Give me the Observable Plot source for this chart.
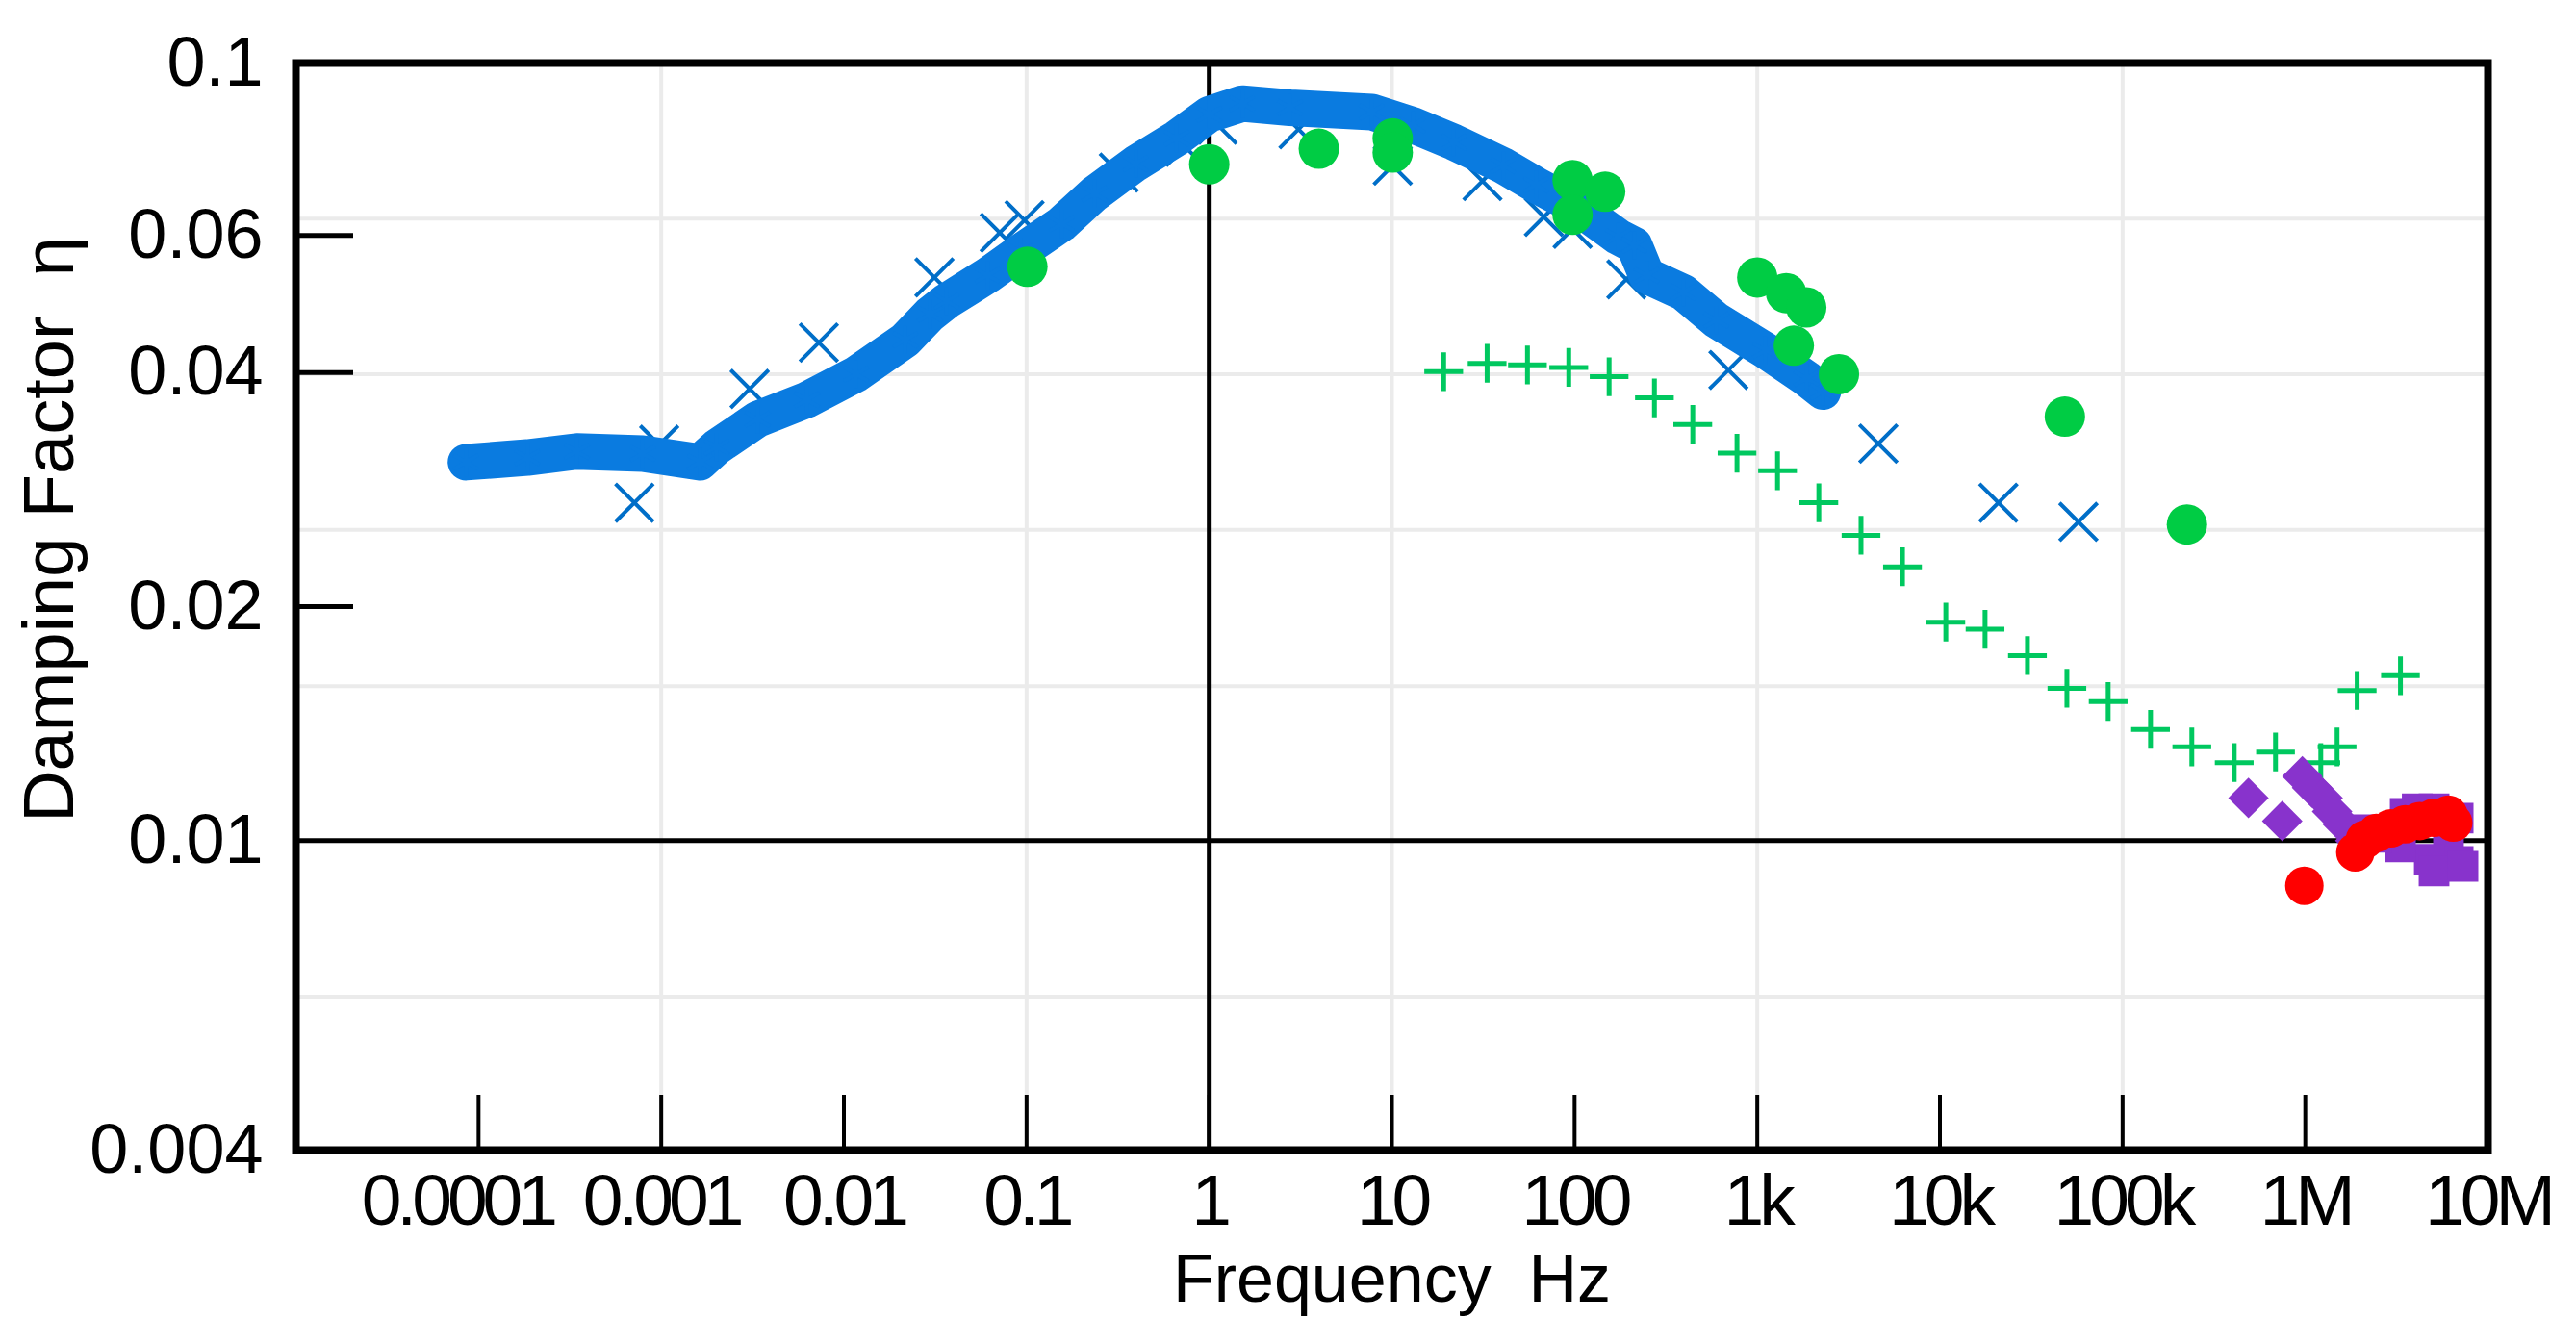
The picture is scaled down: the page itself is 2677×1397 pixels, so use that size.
<!DOCTYPE html>
<html>
<head>
<meta charset="utf-8">
<script src="https://cdn.jsdelivr.net/npm/d3@7"></script>
<script src="https://cdn.jsdelivr.net/npm/@observablehq/plot@0.6"></script>
<style>
  html, body { margin: 0; padding: 0; background: #fff; }
  svg { display: block; }
  g[aria-label="x-axis tick label"] text { letter-spacing: -5px; }
</style>
</head>
<body>
<div id="chart"></div>
<script>
// ---- axis ticks ----
const xTickValues = [1e-4, 1e-3, 1e-2, 1e-1, 1, 10, 100, 1e3, 1e4, 1e5, 1e6, 1e7];
const xTickLabels = ["0.0001", "0.001", "0.01", "0.1", "1", "10", "100", "1k", "10k", "100k", "1M", "10M"];
const xTickMarks = [1e-4, 1e-3, 1e-2, 1e-1, 1, 10, 100, 1e3, 1e4, 1e5, 1e6];
const yTickValues = [0.1, 0.06, 0.04, 0.02, 0.01, 0.004];
const yTickLabels = ["0.1", "0.06", "0.04", "0.02", "0.01", "0.004"];
const yTickMarks = [0.06, 0.04, 0.02];
const xGrid = [1e-3, 1e-1, 10, 1e3, 1e5];
const yGrid = [0.0631, 0.0398, 0.0251, 0.0158, 0.0063];
const xRefLine = [1];
const yRefLine = [0.01];

// ---- series: blue dense band ----
const bandF = [8.53e-5, 1.85e-4, 3.45e-4, 7.91e-4, 1.63e-3, 2.01e-3, 3.37e-3, 6.27e-3, 0.01167, 0.02173,
  0.02965, 0.03648, 0.06124, 0.09268, 0.1556, 0.2355, 0.3948, 0.6625, 1.0, 1.517, 2.77,
  7.74, 13.0, 21.85, 40.6, 61.4, 103, 172.6, 212, 248, 394, 596, 1108, 1858, 2286];
const bandEta = [0.03067, 0.0311, 0.03166, 0.03146, 0.03067, 0.03207, 0.03483, 0.03688, 0.0398, 0.04406,
  0.04755, 0.04941, 0.05333, 0.05718, 0.06212, 0.06791, 0.07425, 0.08005, 0.08592, 0.08868, 0.0876,
  0.0865, 0.0832, 0.0791, 0.0738, 0.0697, 0.0653, 0.0598, 0.0583, 0.0533, 0.0507, 0.0467, 0.0427, 0.0393, 0.0378];

// ---- series: blue crosses ----
const crossF = [7.13e-4, 9.75e-4, 3.05e-3, 7.29e-3, 0.0313, 0.0713, 0.0975, 0.320, 0.738, 1.11,
  3.08, 10.1, 31.3, 67.9, 97.5, 192, 695, 4600, 20900, 57300];
const crossEta = [0.0272, 0.0323, 0.0381, 0.0437, 0.0530, 0.0605, 0.0628, 0.0723, 0.078, 0.0833,
  0.0822, 0.0738, 0.0705, 0.0634, 0.0612, 0.0527, 0.0403, 0.0324, 0.0272, 0.0257];

// ---- series: green dots ----
const gDotF = [0.101, 1.0, 3.98, 10.1, 10.1, 97.5, 97.5, 147, 1000, 1439, 1854, 1585, 2800, 48300, 225000];
const gDotEta = [0.0547, 0.0741, 0.0776, 0.080, 0.0767, 0.0707, 0.0638, 0.0683, 0.0530, 0.0506, 0.0485, 0.0433, 0.0398, 0.0351, 0.0255];

// ---- series: green plus ----
const gPlusF = [19.2, 33.2, 55.2, 92.9, 154.5, 273.5, 443.6, 774.5, 1291, 2173, 3698, 6237, 10770, 17660, 30130,
  49550, 83370, 142200, 239300, 408300, 687100, 1.216e6, 1.493e6, 1.923e6, 3.319e6];
const gPlusEta = [0.0401, 0.0411, 0.0409, 0.0406, 0.0395, 0.0371, 0.0343, 0.0315, 0.0299, 0.0272, 0.0247, 0.0225, 0.0191, 0.0187, 0.0173,
  0.0157, 0.0151, 0.0139, 0.0132, 0.0126, 0.0130, 0.0126, 0.0132, 0.0156, 0.0163];

// ---- series: purple diamonds ----
const pDiaF = [488700, 748200, 963900, 1.089e6, 1.245e6, 1.403e6, 1.603e6, 1.879e6];
const pDiaEta = [0.01135, 0.0106, 0.0121, 0.0117, 0.01135, 0.0109, 0.0105, 0.0100];

// ---- series: purple squares ----
const pSqF = [3.524e6, 5.07e6, 6.87e6, 6.08e6, 6.87e6, 4.775e6, 3.319e6, 2.449e6, 2.173e6, 5.07e6, 7.3e6, 4.1e6];
const pSqEta = [0.01084, 0.01099, 0.01069, 0.00982, 0.0094, 0.00946, 0.00982, 0.0101, 0.01033, 0.00914, 0.00927, 0.01099];

// ---- series: red dots ----
const redF = [988500, 1.879e6, 2.118e6, 2.449e6, 2.938e6, 3.524e6, 4.227e6, 5.07e6, 6.08e6, 6.457e6];
const redEta = [0.00875, 0.00966, 0.01003, 0.01023, 0.01037, 0.0105, 0.0106, 0.0107, 0.0108, 0.01055];

const xTitle = "Frequency  Hz";
const yTitle = "Damping Factor  η";

const zip = (fs, es) => fs.map((f, i) => ({f, eta: es[i]}));
const band = zip(bandF, bandEta);
const crosses = zip(crossF, crossEta);
const gDots = zip(gDotF, gDotEta);
const gPlus = zip(gPlusF, gPlusEta);
const pDia = zip(pDiaF, pDiaEta);
const pSq = zip(pSqF, pSqEta);
const red = zip(redF, redEta);

const xLab = new Map(xTickValues.map((v, i) => [v, xTickLabels[i]]));
const yLab = new Map(yTickValues.map((v, i) => [v, yTickLabels[i]]));

const W = 2677, H = 1397;
const mL = 307, mR = 92, mT = 65, mB = 202;
const innerW = W - mL - mR, innerH = H - mT - mB;

const xAxisOpts = {tickFormat: d => xLab.get(d), tickSize: 0, tickPadding: 24, fontSize: 75, label: null};

const chart = Plot.plot({
  width: W,
  height: H,
  marginLeft: mL,
  marginRight: mR,
  marginTop: mT,
  marginBottom: mB,
  style: {fontFamily: "'Liberation Sans', Arial, sans-serif", background: "#fff", color: "#000"},
  x: {type: "log", domain: [1e-5, 1e7]},
  y: {type: "log", domain: [0.004, 0.1]},
  marks: [
    Plot.ruleX(xGrid, {stroke: "#ebebeb", strokeWidth: 4}),
    Plot.ruleY(yGrid, {stroke: "#ebebeb", strokeWidth: 4}),
    Plot.ruleX(xRefLine, {stroke: "#000", strokeWidth: 5}),
    Plot.ruleY(yRefLine, {stroke: "#000", strokeWidth: 5}),
    Plot.tickX(xTickMarks, {x: d => d, stroke: "#000", strokeWidth: 4, insetTop: innerH - 57}),
    Plot.tickY(yTickMarks, {y: d => d, stroke: "#000", strokeWidth: 5, insetRight: innerW - 60}),
    Plot.axisX({...xAxisOpts, ticks: xTickValues.slice(0, 1), dx: -22}),
    Plot.axisX({...xAxisOpts, ticks: xTickValues.slice(1)}),
    Plot.axisY({ticks: yTickValues, tickFormat: d => yLab.get(d), tickSize: 0, tickPadding: 34, fontSize: 72, label: null}),
    Plot.text([xTitle], {frameAnchor: "bottom", text: d => d, dy: 135, fontSize: 70, lineAnchor: "middle", textAnchor: "middle", fill: "#000"}),
    Plot.text([yTitle], {frameAnchor: "left", text: d => d, rotate: -90, dx: -255, dy: -80, fontSize: 74, lineAnchor: "middle", textAnchor: "middle", fill: "#000"}),
    // data
    Plot.dot(crosses, {x: "f", y: "eta", symbol: "times", r: 18, stroke: "#006ec8", strokeWidth: 4}),
    Plot.line(band, {x: "f", y: "eta", stroke: "#0a7be0", strokeWidth: 38, strokeLinejoin: "round", strokeLinecap: "round"}),
    Plot.dot(band, {x: "f", y: "eta", symbol: "asterisk", r: 14, stroke: "#0a7be0", strokeWidth: 4}),
    Plot.dot(gPlus, {x: "f", y: "eta", symbol: "plus", r: 13, stroke: "#00c85f", strokeWidth: 5}),
    Plot.dot(gDots, {x: "f", y: "eta", r: 21, fill: "#00cc44", stroke: null}),
    Plot.dot(pDia, {x: "f", y: "eta", symbol: "diamond2", r: 19, fill: "#8833cc", stroke: null}),
    Plot.dot(pSq, {x: "f", y: "eta", symbol: "square", r: 18, fill: "#8833cc", stroke: null}),
    Plot.dot(red, {x: "f", y: "eta", r: 20, fill: "#ff0000", stroke: null}),
    Plot.frame({stroke: "#000", strokeWidth: 8})
  ]
});
document.getElementById("chart").appendChild(chart);
</script>
</body>
</html>
